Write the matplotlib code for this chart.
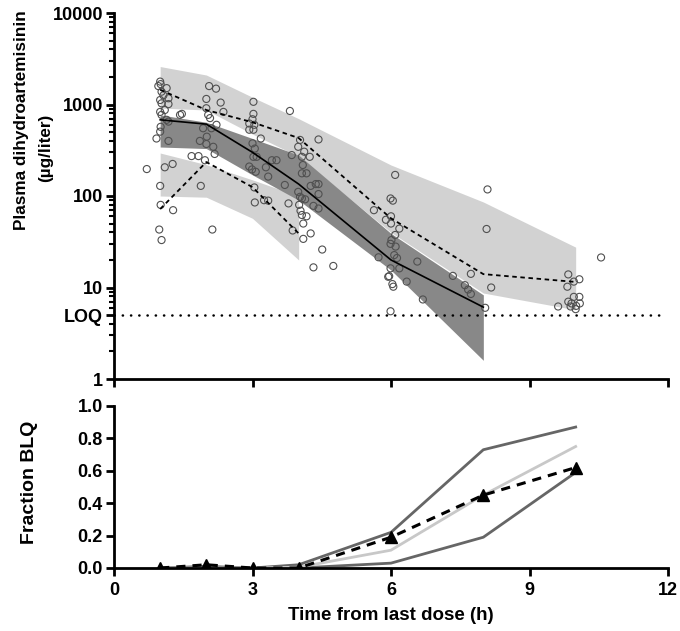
import matplotlib
matplotlib.use("Agg")
import matplotlib.pyplot as plt
import numpy as np

plt.rcParams['font.family'] = ['Liberation Sans', 'DejaVu Sans']
plt.rcParams['font.weight'] = 'bold'

# ---------------- data: top panel (VPC) ----------------
times = [1, 2, 3, 4, 6, 8, 10]

# 95% CI of simulated 95th percentile (light band)
p95_ci_hi = [2600, 2100, 1200, 700, 218, 86, 27.6]
p95_ci_lo = [915, 870, 475, 270, 40, 8.7, 5.7]

# 95% CI of simulated median (dark band)
med_times = [1, 2, 3, 4, 6, 8]
med_ci_hi = [770, 640, 425, 280, 39, 8.3]
med_ci_lo = [343, 330, 170, 90, 15.5, 1.6]

# 95% CI of simulated 5th percentile (light band, early only)
p05_times = [1, 2, 3, 4]
p05_ci_hi = [295, 220, 150, 100]
p05_ci_lo = [100, 97, 57, 20]

# observed percentiles
obs95_times = [1, 2, 3, 4, 6, 8, 10]
obs95 = [1450, 870, 640, 430, 57, 14, 11.5]
obsmed_times = [1, 2, 3, 4, 6, 8]
obsmed = [680, 610, 300, 135, 20, 6.1]
obs05_times = [1, 2, 3, 4]
obs05 = [72, 235, 125, 39]

LOQ = 5

# observed concentrations
obs_t = [1.00, 1.01, 0.96, 1.14, 1.03, 1.07, 1.18, 1.00, 1.03, 1.18, 1.10, 1.00,
         1.03, 1.14, 1.18, 1.01, 1.00, 0.92, 1.18, 1.43, 1.47, 0.71, 1.10, 1.27,
         1.00, 1.01, 1.28, 0.98, 1.03,
         1.88, 2.06, 2.21, 2.00, 2.31, 2.37, 2.00, 2.04, 2.08, 2.11, 2.22, 1.93,
         2.01, 1.86, 2.00, 2.15, 2.18, 1.68, 1.83, 1.97, 2.13,
         3.02, 3.02, 3.00, 2.93, 3.04, 3.02, 2.93, 3.18, 3.00, 3.05, 3.02, 3.09,
         2.93, 2.99, 3.07, 3.29, 3.42, 3.52, 3.34, 3.04, 3.05, 3.25, 3.34, 3.78,
         3.87,
         3.81, 4.03, 4.43, 3.99, 4.12, 4.07, 4.24, 3.85, 4.09, 4.07, 4.17, 3.70,
         4.26, 4.43, 4.37, 3.99, 4.03, 4.07, 4.14, 4.01, 4.04, 4.07, 4.17, 4.10,
         4.43, 4.32, 4.43, 4.26, 4.10, 4.51, 4.32, 4.75,
         5.63, 6.09, 5.99, 6.04, 6.00, 5.89, 6.00, 6.18, 6.09, 6.01, 5.99, 6.10,
         6.07, 6.13, 5.73, 6.57, 5.99, 6.18, 5.94, 5.96, 6.34, 6.03, 6.05, 6.69,
         5.99,
         7.34, 7.73, 7.60, 7.67, 7.73, 8.04, 8.07, 8.09, 8.17,
         10.55, 9.84, 9.82, 9.96, 10.08, 9.96, 10.08, 9.84, 9.91, 10.09, 9.89,
         10.01, 10.00, 9.62]
obs_c = [1780, 1670, 1590, 1510, 1380, 1260, 1170, 1120, 1030, 1010, 870, 830,
         770, 680, 650, 570, 505, 425, 400, 770, 790, 197, 206, 224,
         129, 80, 70, 43, 33,
         129, 1590, 1490, 1150, 1050, 830, 910, 770, 710, 550, 600, 550,
         445, 400, 370, 345, 288, 273, 273, 246, 43,
         1070, 790, 690, 620, 600, 530, 530, 425, 376, 330, 268, 268,
         210, 195, 184, 206, 246, 246, 163, 124, 85, 90, 89, 83,
         42,
         850, 410, 415, 345, 305, 268, 268, 280, 218, 177, 177, 132,
         129, 135, 135, 111, 98, 94, 92, 80, 69, 62, 60, 50,
         105, 78, 73, 39, 34, 26, 16.6, 17.2,
         70, 170, 94, 89, 60, 55, 50, 44, 37.5, 33, 30, 28,
         22.6, 21, 21.4, 19.2, 16.2, 16.2, 13.1, 13.3, 11.6, 10.9, 10.2, 7.4,
         5.5,
         13.4, 14.1, 10.6, 9.5, 8.5, 6.0, 43.6, 118, 10,
         21.3, 13.9, 10.2, 11.6, 12.3, 7.9, 7.9, 7.0, 6.7, 6.7, 6.2,
         6.3, 5.8, 6.2]

# ---------------- data: bottom panel (fraction BLQ) ----------------
blq_times = [1, 2, 3, 4, 6, 8, 10]
blq_obs = [0.0, 0.02, 0.0, 0.0, 0.19, 0.45, 0.62]
blq_sim_hi = [0.0, 0.01, 0.0, 0.02, 0.22, 0.73, 0.87]
blq_sim_med = [0.0, 0.0, 0.0, 0.005, 0.11, 0.45, 0.75]
blq_sim_lo = [0.0, 0.0, 0.0, 0.0, 0.03, 0.19, 0.59]

x_ticks = [0, 3, 6, 9, 12]
top_yticks = [1, 10, 100, 1000, 10000, LOQ]
top_yticklabels = ['1', '10', '100', '1000', '10000', 'LOQ']
bot_yticks = [0.0, 0.2, 0.4, 0.6, 0.8, 1.0]

# ---------------- figure ----------------
W, H = 680, 631
fig = plt.figure(figsize=(6.8, 6.31), dpi=100)
ax1 = fig.add_axes([114 / W, 1 - 379 / H, 554 / W, 366 / H])
ax2 = fig.add_axes([114 / W, 1 - 568 / H, 554 / W, 162 / H])

LIGHT = '#d2d2d2'
DARK = '#888888'

ax1.fill_between(times, p95_ci_lo, p95_ci_hi, color=LIGHT, lw=0, zorder=1)
ax1.fill_between(p05_times, p05_ci_lo, p05_ci_hi, color=LIGHT, lw=0, zorder=1)
ax1.fill_between(med_times, med_ci_lo, med_ci_hi, color=DARK, lw=0, zorder=2)

ax1.scatter(obs_t, obs_c, s=26, facecolors='none', edgecolors='#505050',
            linewidths=0.8, zorder=3)

ax1.plot(obs95_times, obs95, color='black', lw=1.3, ls=(0, (2.5, 2)), zorder=4)
ax1.plot(obs05_times, obs05, color='black', lw=1.3, ls=(0, (2.5, 2)), zorder=4)
ax1.plot(obsmed_times, obsmed, color='black', lw=1.2, zorder=4)

ax1.axhline(LOQ, xmin=0, xmax=11.95 / 12, color='black', lw=1.8,
            ls=(0, (0.1, 3.2)), dash_capstyle='round', zorder=4)

ax1.set_yscale('log')
ax1.set_ylim(1, 10000)
ax1.set_xlim(0, 12)
ax1.set_xticks(x_ticks)
ax1.set_xticklabels([])
ax1.set_yticks(top_yticks)
ax1.set_yticklabels(top_yticklabels)
ax1.yaxis.set_minor_locator(matplotlib.ticker.LogLocator(base=10, subs=np.arange(2, 10)))
ax1.yaxis.set_minor_formatter(matplotlib.ticker.NullFormatter())

# bottom panel
ax2.plot(blq_times, blq_sim_hi, color='#666666', lw=2, zorder=2)
ax2.plot(blq_times, blq_sim_lo, color='#666666', lw=2, zorder=2)
ax2.plot(blq_times, blq_sim_med, color='#c8c8c8', lw=2, zorder=2)
ax2.plot(blq_times, blq_obs, color='black', lw=2.2, ls=(0, (3, 2.3)),
         marker='^', ms=8.5, zorder=3)
ax2.set_xlim(0, 12)
ax2.set_ylim(0, 1.0)
ax2.set_xticks(x_ticks)
ax2.set_yticks(bot_yticks)
ax2.set_yticklabels(['%.1f' % v for v in bot_yticks])
ax2.set_xlabel('Time from last dose (h)', fontsize=13.5, fontweight='bold', labelpad=6)

for ax in (ax1, ax2):
    for s in ('top', 'right'):
        ax.spines[s].set_visible(False)
    for s in ('left', 'bottom'):
        ax.spines[s].set_linewidth(2)
    ax.tick_params(which='major', length=6, width=2, labelsize=13, pad=2)
    ax.tick_params(which='minor', length=3.5, width=1.5)
    ax.set_facecolor('white')
ax2.tick_params(axis='x', pad=4)
ax1.tick_params(axis='y', which='major', pad=2)

fig.text(22 / W, 1 - 120 / H, 'Plasma dihydroartemisinin',
         rotation=90, ha='center', va='center', fontsize=12.3, fontweight='bold')
fig.text(46 / W, 1 - 148 / H, '(µg/liter)',
         rotation=90, ha='center', va='center', fontsize=12.3, fontweight='bold')
fig.text(30 / W, 1 - 482 / H, 'Fraction BLQ', rotation=90, ha='center',
         va='center', fontsize=14, fontweight='bold')

fig.savefig('out.png', dpi=100, facecolor='white')
